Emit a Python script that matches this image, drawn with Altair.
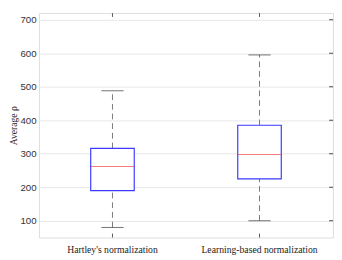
import altair as alt
import pandas as pd

categories = ["Hartley's normalization", "Learning-based normalization"]
mins = [80, 100]
q1 = [190, 225]
medians = [262, 298]
q3 = [316, 385]
maxs = [488, 595]
y_ticks = [100, 200, 300, 400, 500, 600, 700]

W, H = 304, 232

df = pd.DataFrame({"cat": categories, "lo": mins, "q1": q1, "med": medians, "q3": q3, "hi": maxs})
ticks_df = pd.DataFrame({"v": y_ticks})

xenc = alt.X("cat:N", sort=categories, title=None,
             scale=alt.Scale(domain=categories, paddingInner=0, paddingOuter=0),
             axis=alt.Axis(labelAngle=0, ticks=False, domain=False, grid=False,
                           labelFont="Liberation Serif", labelFontSize=10, labelColor="#222",
                           labelPadding=8))
yscale = alt.Scale(domain=[50, 720], nice=False, zero=False)
yaxis = alt.Axis(values=y_ticks, ticks=False, domain=False, grid=True, gridColor="#e6e6e6",
                 labelOverlap=False, tickCount=7,
                 labelFont="Liberation Sans", labelFontSize=10, labelColor="#333",
                 title="Average  ρ", titleFont="Liberation Serif", titleFontSize=10,
                 titleFontWeight="normal", titleColor="#222", labelPadding=3, titlePadding=2)

base = alt.Chart(df)

whisk_lo = base.mark_rule(color="#777", strokeDash=[6, 4], strokeWidth=1).encode(
    x=xenc, y=alt.Y("lo:Q", scale=yscale, axis=yaxis), y2="q1:Q")
whisk_hi = base.mark_rule(color="#777", strokeDash=[6, 4], strokeWidth=1).encode(
    x=alt.X("cat:N", sort=categories), y=alt.Y("q3:Q", scale=yscale), y2="hi:Q")
box = base.mark_bar(size=45, fill="white", stroke="#3a3aff", strokeWidth=1.2).encode(
    x=alt.X("cat:N", sort=categories), y=alt.Y("q1:Q", scale=yscale), y2="q3:Q")
med = base.mark_tick(size=45, thickness=1, color="#ee4444", orient="horizontal").encode(
    x=alt.X("cat:N", sort=categories), y=alt.Y("med:Q", scale=yscale))
cap_lo = base.mark_tick(size=23, thickness=1, color="#333", orient="horizontal").encode(
    x=alt.X("cat:N", sort=categories), y=alt.Y("lo:Q", scale=yscale))
cap_hi = base.mark_tick(size=23, thickness=1, color="#333", orient="horizontal").encode(
    x=alt.X("cat:N", sort=categories), y=alt.Y("hi:Q", scale=yscale))

top_ticks = base.mark_rule(color="#555").encode(
    x=alt.X("cat:N", sort=categories), y=alt.value(0), y2=alt.value(4))
bot_ticks = base.mark_rule(color="#555").encode(
    x=alt.X("cat:N", sort=categories), y=alt.value(H - 4), y2=alt.value(H))
right_ticks = alt.Chart(ticks_df).mark_rule(color="#444").encode(
    y=alt.Y("v:Q", scale=yscale), x=alt.value(W - 4), x2=alt.value(W))

chart = alt.layer(whisk_lo, whisk_hi, box, med, cap_lo, cap_hi, top_ticks, bot_ticks, right_ticks).properties(
    width=W, height=H, padding={"left": 0, "top": 0, "right": 0, "bottom": 0}
).configure_view(stroke="#888", strokeWidth=1.5).configure(background="white")

chart.save("out.html", embed_options={"renderer": "svg", "actions": False})
